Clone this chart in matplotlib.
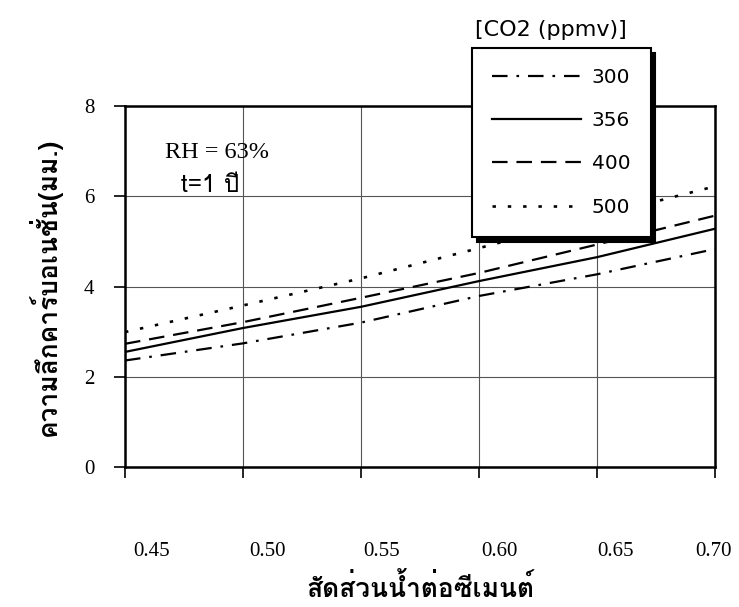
import matplotlib
matplotlib.use("Agg")
import matplotlib.pyplot as plt
from matplotlib import font_manager, ft2font
from matplotlib.transforms import ScaledTranslation

# ---------------- data ----------------
wc_ratio = [0.45, 0.50, 0.55, 0.60, 0.65, 0.70]
co2_labels = ["300", "356", "400", "500"]
depth_300 = [2.36, 2.74, 3.20, 3.79, 4.27, 4.83]
depth_356 = [2.55, 3.08, 3.55, 4.12, 4.65, 5.28]
depth_400 = [2.73, 3.21, 3.75, 4.30, 4.93, 5.57]
depth_500 = [2.99, 3.58, 4.18, 4.85, 5.55, 6.22]
x_ticks = [0.45, 0.50, 0.55, 0.60, 0.65, 0.70]
x_tick_labels = ["0.45", "0.50", "0.55", "0.60", "0.65", "0.70"]
y_ticks = [0, 2, 4, 6, 8]
y_tick_labels = ["0", "2", "4", "6", "8"]

# ---------------- fonts ----------------
def has_thai(path):
    try:
        f = ft2font.FT2Font(path)
        cm = f.get_charmap()
        return 0x0E01 in cm and 0x0E35 in cm and 0x0E19 in cm
    except Exception:
        return False

thai_fams = []
for fe in font_manager.fontManager.ttflist:
    if fe.name not in thai_fams and has_thai(fe.fname):
        thai_fams.append(fe.name)
thai_family = thai_fams + ["DejaVu Sans"]
serif_family = ["Liberation Serif", "DejaVu Serif"]
sans_family = ["DejaVu Sans"]

plt.rcParams["font.family"] = serif_family

fig = plt.figure(figsize=(7.39, 6.07), dpi=100)
L, R, T, B = 125 / 739, 715 / 739, 1 - 106 / 607, 1 - 467 / 607
ax = fig.add_axes([L, B, R - L, T - B])

styles = [
    dict(linestyle=(0, (7, 4, 1.2, 4)), lw=1.6),
    dict(linestyle="-", lw=1.6),
    dict(linestyle=(0, (7, 4)), lw=1.6),
    dict(linestyle=(0, (1.3, 4.5)), lw=1.9),
]
series = [depth_300, depth_356, depth_400, depth_500]
for ys, lab, st in zip(series, co2_labels, styles):
    ax.plot(wc_ratio, ys, color="black", label=lab, **st)

ax.set_xlim(0.45, 0.70)
ax.set_ylim(0, 8)
ax.set_xticks(x_ticks)
ax.set_xticklabels(x_tick_labels)
ax.set_yticks(y_ticks)
ax.set_yticklabels(y_tick_labels)
ax.grid(True, color="#555555", lw=0.8)
ax.set_axisbelow(True)
for s in ax.spines.values():
    s.set_linewidth(1.8)
    s.set_color("black")
ax.tick_params(axis="x", direction="out", length=8, width=1.2, pad=46, labelsize=15)
ax.tick_params(axis="y", direction="out", length=8, width=1.2, pad=14, labelsize=15)

# shift x tick labels slightly as in reference
offsets_px = [27, 24, 21, 20, 18, -2]
for lbl, dx in zip(ax.get_xticklabels(), offsets_px):
    lbl.set_transform(lbl.get_transform() + ScaledTranslation(dx / 100, 0, fig.dpi_scale_trans))

ax.set_xlabel("สัดส่วนน้ำต่อซีเมนต์", family=thai_family, fontsize=19, fontweight="bold", labelpad=9)
ax.set_ylabel("ความลึกคาร์บอเนชั่น(มม.)", family=thai_family, fontsize=19, fontweight="bold", labelpad=16)

ax.text(0.45 + (165 - 125) / 590 * 0.25, 8 - (153 - 106) / 361 * 8, "RH = 63%",
        fontsize=17.5, va="center", ha="left", family=serif_family)
ax.text(0.45 + (181 - 125) / 590 * 0.25, 8 - (186 - 106) / 361 * 8, "t=1 ปี",
        fontsize=17.5, va="center", ha="left", family=thai_family)

leg = ax.legend(loc="upper left", bbox_to_anchor=(472 / 739, 1 - 48 / 607),
                bbox_transform=fig.transFigure, frameon=True, fancybox=False,
                framealpha=1, edgecolor="black", handlelength=4.4,
                handletextpad=0.55, labelspacing=1.2, borderpad=1.0,
                borderaxespad=0, prop=dict(family=sans_family, size=14.5),
                shadow=dict(ox=3.5, oy=-3.5, color="black", alpha=1))
leg.get_frame().set_linewidth(1.5)

fig.text(551 / 739, 1 - 30 / 607, "[CO2 (ppmv)]", ha="center", va="center",
         fontsize=16, family=sans_family)

fig.savefig("out.png", dpi=100)
